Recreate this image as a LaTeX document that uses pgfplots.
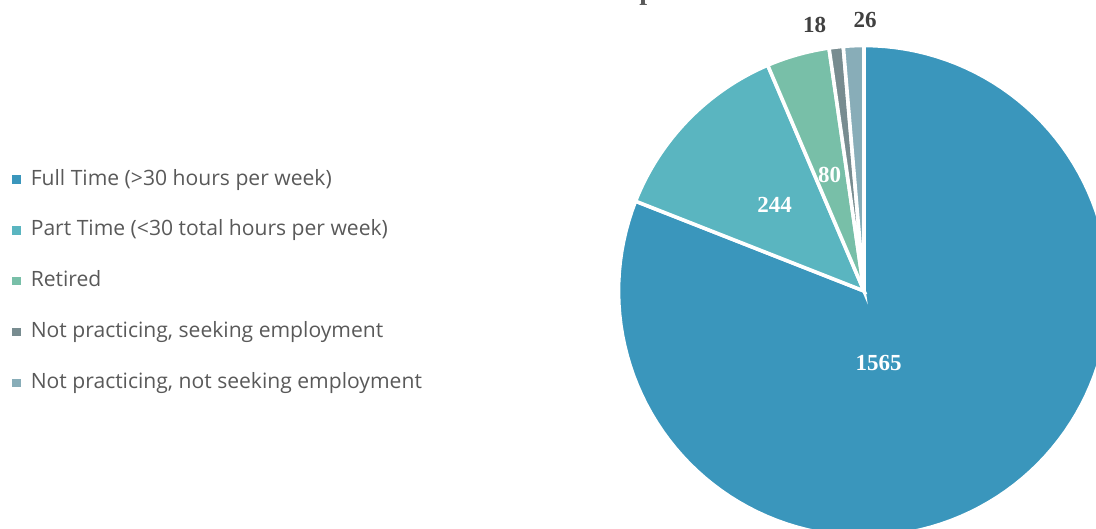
\documentclass[border=0pt]{standalone}
\usepackage{pgfplots}
\usepackage{pgfplotstable}
\pgfplotsset{compat=1.18}
\usepackage{fontspec}
\setmainfont{Liberation Serif}
\newfontfamily\legfont{Open Sans}
\definecolor{cFull}{HTML}{3A96BC}
\definecolor{cPart}{HTML}{5AB5C0}
\definecolor{cRet}{HTML}{78BFA8}
\definecolor{cSeek}{HTML}{788C90}
\definecolor{cNot}{HTML}{88ADB8}
\definecolor{leggray}{HTML}{595959}
\definecolor{labgray}{HTML}{404040}

\pgfplotstableread{
idx value
0 1565
1 244
2 80
3 18
4 26
}\pietable

\begin{document}
\begin{tikzpicture}
\pgfplotstablegetelem{0}{value}\of\pietable \let\vA\pgfplotsretval
\pgfplotstablegetelem{1}{value}\of\pietable \let\vB\pgfplotsretval
\pgfplotstablegetelem{2}{value}\of\pietable \let\vC\pgfplotsretval
\pgfplotstablegetelem{3}{value}\of\pietable \let\vD\pgfplotsretval
\pgfplotstablegetelem{4}{value}\of\pietable \let\vE\pgfplotsretval
\pgfmathsetmacro\tot{\vA+\vB+\vC+\vD+\vE}
\pgfmathsetmacro\aB{360*(\vA/\tot)}
\pgfmathsetmacro\aC{360*((\vA+\vB)/\tot)}
\pgfmathsetmacro\aD{360*((\vA+\vB+\vC)/\tot)}
\pgfmathsetmacro\aE{360*((\vA+\vB+\vC+\vD)/\tot)}
\def\cx{864}\def\cy{291}\def\rr{245.5}
\begin{axis}[hide axis, scale only axis, width=548pt, height=264.5pt,
  xmin=0, xmax=1096, ymin=0, ymax=529, y dir=reverse, clip=true,
  legend cell align=left,
  legend style={at={(0.01095,0.6795)}, anchor=north west, draw=none, fill=none,
    inner sep=0pt, font=\legfont\fontsize{10.55}{12}\selectfont, text=leggray,
    row sep=15.8pt, column sep=5pt,
    nodes={inner sep=0pt, text height=7.6pt, text depth=2pt}},
  legend image code/.code={\fill[#1,draw=none] (0pt,-2.1pt) rectangle (4.2pt,2.1pt);},
  every axis plot/.append style={draw=white, line width=1.8pt, samples=120}]
\addplot[fill=cFull, domain=0:\aB] ({\cx+\rr*sin(x)},{\cy-\rr*cos(x)}) -- (axis cs:\cx,\cy) -- cycle;
\addplot[fill=cPart, domain=\aB:\aC] ({\cx+\rr*sin(x)},{\cy-\rr*cos(x)}) -- (axis cs:\cx,\cy) -- cycle;
\addplot[fill=cRet, domain=\aC:\aD] ({\cx+\rr*sin(x)},{\cy-\rr*cos(x)}) -- (axis cs:\cx,\cy) -- cycle;
\addplot[fill=cSeek, domain=\aD:\aE] ({\cx+\rr*sin(x)},{\cy-\rr*cos(x)}) -- (axis cs:\cx,\cy) -- cycle;
\addplot[fill=cNot, domain=\aE:360] ({\cx+\rr*sin(x)},{\cy-\rr*cos(x)}) -- (axis cs:\cx,\cy) -- cycle;
\legend{Full Time (>30 hours per week), Part Time (<30 total hours per week), Retired, {Not practicing, seeking employment}, {Not practicing, not seeking employment}}
\begin{scope}[every node/.style={font=\bfseries\fontsize{11.5}{12}\selectfont, inner sep=0pt}]
\node[text=white] at (axis cs:878.5,362.5) {\vA};
\node[text=white] at (axis cs:774.5,205) {\vB};
\node[text=white] at (axis cs:829.5,174.5) {\vC};
\node[text=labgray] at (axis cs:814.5,24.5) {\vD};
\node[text=labgray] at (axis cs:865,20) {\vE};
\end{scope}
\node[anchor=base west, inner sep=0pt, text=leggray, font=\bfseries\fontsize{14}{14}\selectfont] at (axis cs:639,0) {p};
\end{axis}
\pgfresetboundingbox
\useasboundingbox (current axis.south west) rectangle (current axis.north east);
\end{tikzpicture}
\end{document}
